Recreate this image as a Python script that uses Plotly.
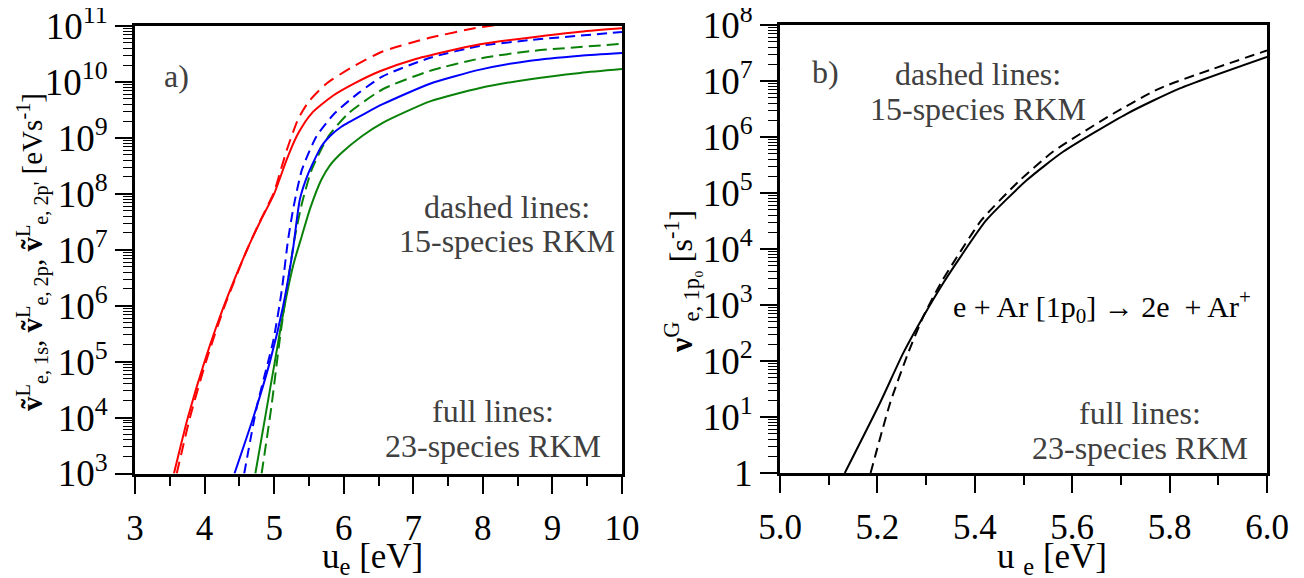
import plotly.graph_objects as go

W, H = 1304, 578
OFF = 8  # the page body has an 8px margin
FONT = "Liberation Serif"
GRAY = "#404040"

# ---------- panel a) data ----------
red23_x = [3.56, 3.76, 4.00, 4.28, 4.61, 4.80, 5.00, 5.09, 5.18, 5.35, 5.54, 5.83, 6.16, 6.52, 7.0, 7.96, 9.40, 10.0]
red23_y = [1e3, 1e4, 1e5, 1e6, 1e7, 3.2e7, 1e8, 2e8, 4.1e8, 1.23e9, 2.75e9, 5.5e9, 9.5e9, 1.55e10, 2.5e10, 4.7e10, 7.9e10, 9.1e10]
red15_x = [3.60, 3.79, 4.02, 4.29, 4.61, 4.80, 5.00, 5.10, 5.20, 5.35, 5.50, 5.75, 6.10, 6.55, 7.20, 7.96, 9.0, 10.0]
red15_y = [1e3, 1e4, 1e5, 1e6, 1e7, 3.3e7, 1.08e8, 2.8e8, 7.1e8, 2.24e9, 4.5e9, 9.3e9, 1.78e10, 3.47e10, 6.0e10, 9.5e10, 1.4e11, 1.9e11]
blue23_x = [4.43, 4.70, 4.94, 5.13, 5.27, 5.37, 5.49, 5.68, 5.80, 5.97, 6.31, 6.56, 7.24, 7.96, 8.68, 9.40, 10.0]
blue23_y = [1e3, 1e4, 1e5, 1e6, 1e7, 8e7, 2.3e8, 7.1e8, 1.07e9, 1.6e9, 2.75e9, 4.0e9, 9.3e9, 1.66e10, 2.4e10, 2.95e10, 3.3e10]
blue15_x = [4.57, 4.75, 4.99, 5.11, 5.20, 5.28, 5.40, 5.61, 5.87, 6.21, 6.56, 7.24, 7.96, 8.68, 10.0]
blue15_y = [1e3, 1.55e4, 2.45e5, 1.9e6, 1.5e7, 5.9e7, 2.7e8, 1.07e9, 2.75e9, 6.3e9, 1.26e10, 2.7e10, 4.4e10, 5.6e10, 7.8e10]
green23_x = [4.73, 4.87, 5.01, 5.15, 5.28, 5.40, 5.52, 5.68, 5.80, 5.97, 6.26, 6.56, 7.24, 7.96, 8.68, 9.40, 10.0]
green23_y = [1e3, 1e4, 1e5, 1e6, 5.6e6, 1.8e7, 5.6e7, 1.8e8, 3.2e8, 5.4e8, 1.07e9, 1.86e9, 4.5e9, 7.8e9, 1.12e10, 1.45e10, 1.7e10]
green15_x = [4.82, 4.96, 5.08, 5.18, 5.29, 5.40, 5.54, 5.78, 6.07, 6.56, 7.24, 7.96, 8.68, 10.0]
green15_y = [1e3, 1.55e4, 2.45e5, 1.9e6, 1.5e7, 6.8e7, 2.7e8, 1.07e9, 2.75e9, 7.4e9, 1.58e10, 2.63e10, 3.55e10, 4.8e10]

# ---------- panel b) data ----------
b23_x = [5.133, 5.205, 5.253, 5.294, 5.335, 5.370, 5.424, 5.507, 5.582, 5.712, 5.821, 6.0]
b23_y = [1, 17.6, 138, 617, 2450, 7100, 3.3e4, 1.7e5, 5.5e5, 2.6e6, 7.4e6, 2.7e7]
b15_x = [5.186, 5.226, 5.263, 5.294, 5.330, 5.363, 5.414, 5.493, 5.561, 5.684, 5.780, 6.0]
b15_y = [1, 17.6, 138, 617, 2450, 7100, 3.3e4, 1.7e5, 5.5e5, 2.6e6, 7.4e6, 3.5e7]

# ---------- ticks ----------
a_ytickvals = [1e3, 1e4, 1e5, 1e6, 1e7, 1e8, 1e9, 1e10, 1e11]
a_yticktext = ["10<sup>3</sup>", "10<sup>4</sup>", "10<sup>5</sup>", "10<sup>6</sup>", "10<sup>7</sup>",
               "10<sup>8</sup>", "10<sup>9</sup>", "10<sup>10</sup>", "10<sup>11</sup>"]
b_ytickvals = [1, 1e1, 1e2, 1e3, 1e4, 1e5, 1e6, 1e7, 1e8]
b_yticktext = ["1", "10<sup>1</sup>", "10<sup>2</sup>", "10<sup>3</sup>", "10<sup>4</sup>",
               "10<sup>5</sup>", "10<sup>6</sup>", "10<sup>7</sup>", "10<sup>8</sup>"]
a_xtickvals = [3, 4, 5, 6, 7, 8, 9, 10]
b_xtickvals = [5.0, 5.2, 5.4, 5.6, 5.8, 6.0]
b_xticktext = ["5.0", "5.2", "5.4", "5.6", "5.8", "6.0"]


def minor_log(lo, hi):
    vals = []
    for e in range(lo, hi):
        for m in range(2, 10):
            vals.append(m * 10 ** e)
    return vals


fig = go.Figure()


def add(x, y, color, dash, xa, ya):
    fig.add_trace(go.Scatter(x=x, y=y, mode="lines", xaxis=xa, yaxis=ya,
                             line=dict(color=color, width=2, dash=dash, shape="spline", smoothing=0.6),
                             showlegend=False, hoverinfo="skip"))


add(green23_x, green23_y, "#0a820a", "solid", "x", "y")
add(green15_x, green15_y, "#0a820a", "12px,6px", "x", "y")
add(blue23_x, blue23_y, "#0000ff", "solid", "x", "y")
add(blue15_x, blue15_y, "#0000ff", "10px,6px", "x", "y")
add(red23_x, red23_y, "#ff0000", "solid", "x", "y")
add(red15_x, red15_y, "#ff0000", "12px,7px", "x", "y")
add(b23_x, b23_y, "#000000", "solid", "x2", "y2")
add(b15_x, b15_y, "#000000", "10px,6px", "x2", "y2")

axis_common = dict(showline=True, linecolor="black", linewidth=3, mirror=True, automargin=False,
                   showgrid=False, zeroline=False, ticks="outside", tickcolor="black",
                   tickwidth=2, ticklen=17, ticklabeloverflow="allow")
xfont = dict(family=FONT, size=35, color="black")
yfont = dict(family=FONT, size=37, color="black")


def minor_x(vals):
    return dict(tickmode="array", tickvals=vals, ticks="outside", ticklen=9, tickwidth=2,
                tickcolor="black", showgrid=False)


def minor_y(vals):
    return dict(tickmode="array", tickvals=vals, ticks="outside", ticklen=9, tickwidth=1.3,
                tickcolor="black", showgrid=False)


def px(v):
    return (v - OFF) / W


def py(v):
    return 1 - (v - OFF) / H


fig.update_layout(
    width=W, height=H, margin=dict(l=0, r=0, t=0, b=0, autoexpand=False),
    paper_bgcolor="white", plot_bgcolor="white",
    xaxis=dict(domain=[px(135), px(622)], range=[3, 10], anchor="y",
               tickmode="array", tickvals=a_xtickvals, tickfont=xfont, ticklabelstandoff=4,
               minor=minor_x([3.5, 4.5, 5.5, 6.5, 7.5, 8.5, 9.5]), **axis_common),
    yaxis=dict(domain=[py(473.5), py(26)], type="log", range=[3, 11], anchor="x",
               tickmode="array", tickvals=a_ytickvals, ticktext=a_yticktext, tickfont=yfont,
               minor=minor_y(minor_log(3, 11)), **axis_common),
    xaxis2=dict(domain=[px(780), px(1267)], range=[5.0, 6.0], anchor="y2",
                tickmode="array", tickvals=b_xtickvals, ticktext=b_xticktext, tickfont=xfont,
                ticklabelstandoff=4,
                minor=minor_x([5.1, 5.3, 5.5, 5.7, 5.9]), **axis_common),
    yaxis2=dict(domain=[py(473), py(25)], type="log", range=[0, 8], anchor="x2",
                tickmode="array", tickvals=b_ytickvals, ticktext=b_yticktext, tickfont=yfont,
                minor=minor_y(minor_log(0, 8)), **axis_common),
)


def txt(x, y, s, size=32, color=GRAY, angle=0):
    fig.add_annotation(x=px(x), y=py(y), xref="paper", yref="paper", text=s,
                       showarrow=False, xanchor="center", yanchor="middle", textangle=angle,
                       font=dict(family=FONT, size=size, color=color))


# panel a texts
txt(176, 76, "a)")
txt(507, 207, "dashed lines:")
txt(507, 241, "15-species RKM")
txt(493, 411, "full lines:")
txt(493, 446, "23-species RKM")
# panel b texts
txt(825, 72, "b)")
txt(978, 74, "dashed lines:")
txt(978, 109, "15-species RKM")
txt(1102, 306, "e + Ar [1p<sub>0</sub>] → 2e  + Ar<sup>+</sup>", size=30, color="black")
txt(1140, 413, "full lines:")
txt(1140, 448, "23-species RKM")

# axis titles
txt(372, 558, "u<sub>e</sub> [eV]", size=35, color="black")
txt(1052, 558, "u <sub>e</sub> [eV]", size=35, color="black")
txt(32, 252, "<b>ṽ</b><sup>L</sup><sub>e, 1s</sub>, <b>ṽ</b><sup>L</sup><sub>e, 2p</sub>, "
             "<b>ṽ</b><sup>L</sup><sub>e, 2p'</sub> [eVs<sup>-1</sup>]",
    size=29, color="black", angle=-90)
txt(682, 282, "<b>ν</b><sup>G</sup><sub>e, 1p₀</sub> [s<sup>-1</sup>]", size=32, color="black", angle=-90)

fig.write_html("out.html")
